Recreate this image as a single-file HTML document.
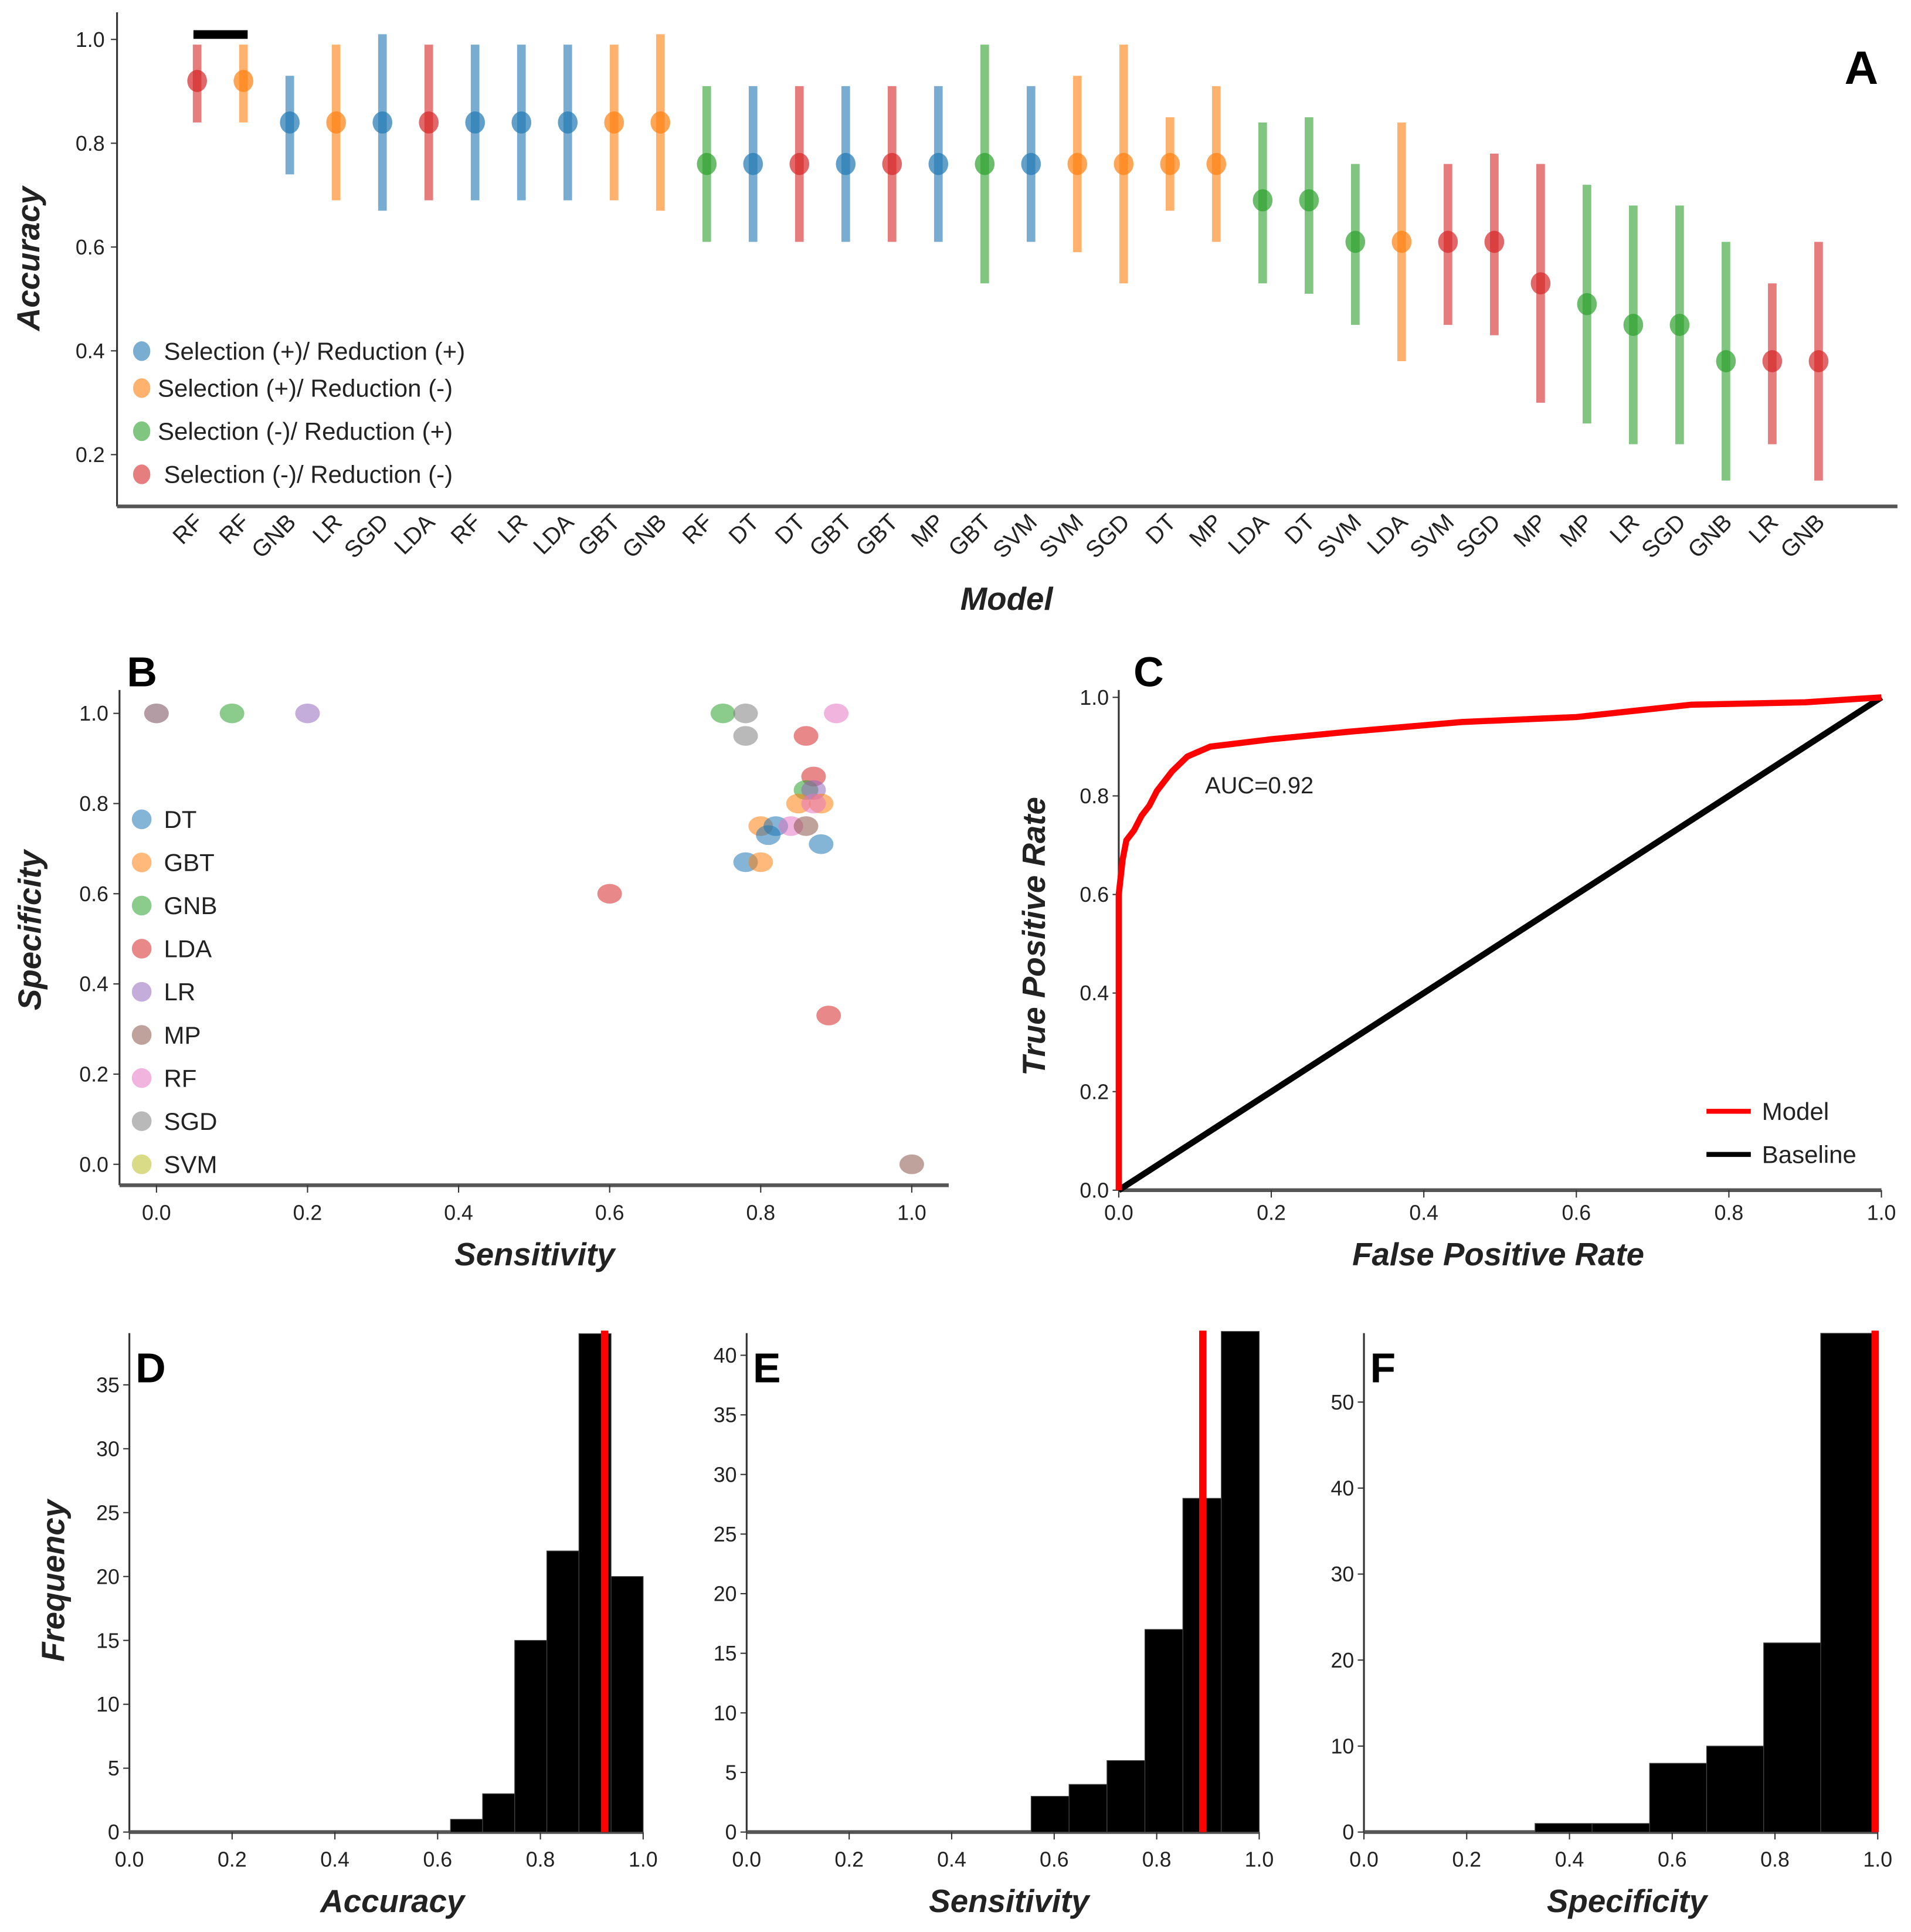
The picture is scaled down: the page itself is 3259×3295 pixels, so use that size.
<!DOCTYPE html>
<html><head><meta charset="utf-8"><style>
html,body{margin:0;padding:0;background:#fff}
svg{display:block}
text{font-family:"Liberation Sans Narrow","Liberation Sans",sans-serif;fill:#222}
.tick{font-size:17px}
.title{font-size:26px;font-weight:bold;font-style:italic;font-family:"Liberation Sans",sans-serif}
.letter{font-size:34px;font-weight:bold;font-family:"Liberation Sans",sans-serif;fill:#000}
.leg{font-size:20px}
</style></head><body>
<svg id="fig" width="3259" height="3295" viewBox="0 0 1551 1568.1" preserveAspectRatio="none" xmlns="http://www.w3.org/2000/svg"></svg>
<script>
// ---------- Panel A data ----------
const aModels = ["RF","RF","GNB","LR","SGD","LDA","RF","LR","LDA","GBT","GNB","RF","DT","DT","GBT","GBT","MP","GBT","SVM","SVM","SGD","DT","MP","LDA","DT","SVM","LDA","SVM","SGD","MP","MP","LR","SGD","GNB","LR","GNB"];
const aGroup = [3,1,0,1,0,3,0,0,0,1,1,2,0,3,0,3,0,2,0,1,1,1,1,2,2,2,1,3,3,3,2,2,2,2,3,3];
const aMean = [0.92,0.92,0.84,0.84,0.84,0.84,0.84,0.84,0.84,0.84,0.84,0.76,0.76,0.76,0.76,0.76,0.76,0.76,0.76,0.76,0.76,0.76,0.76,0.69,0.69,0.61,0.61,0.61,0.61,0.53,0.49,0.45,0.45,0.38,0.38,0.38];
const aLow = [0.84,0.84,0.74,0.69,0.67,0.69,0.69,0.69,0.69,0.69,0.67,0.61,0.61,0.61,0.61,0.61,0.61,0.53,0.61,0.59,0.53,0.67,0.61,0.53,0.51,0.45,0.38,0.45,0.43,0.30,0.26,0.22,0.22,0.15,0.22,0.15];
const aHigh = [0.99,0.99,0.93,0.99,1.01,0.99,0.99,0.99,0.99,0.99,1.01,0.91,0.91,0.91,0.91,0.91,0.91,0.99,0.91,0.93,0.99,0.85,0.91,0.84,0.85,0.76,0.84,0.76,0.78,0.76,0.72,0.68,0.68,0.61,0.53,0.61];
const aGroupNames = ["Selection (+)/ Reduction (+)","Selection (+)/ Reduction (-)","Selection (-)/ Reduction (+)","Selection (-)/ Reduction (-)"];
const aTicks = [0.2,0.4,0.6,0.8,1.0];
// ---------- Panel B data ----------
const bClasses = ["DT","GBT","GNB","LDA","LR","MP","RF","SGD","SVM"];
const bSens = [0,0,0.1,0.2,0.75,0.78,0.9,0.78,0.86,0.87,0.86,0.87,0.85,0.88,0.87,0.8,0.82,0.84,0.86,0.81,0.88,0.78,0.8,0.6,0.89,1.0];
const bSpec = [1,1,1,1,1,1,1,0.95,0.95,0.86,0.83,0.83,0.8,0.8,0.8,0.75,0.75,0.75,0.75,0.73,0.71,0.67,0.67,0.6,0.33,0.0];
const bCls = [8,4,2,4,2,7,6,7,3,3,2,4,1,1,6,1,0,6,5,0,0,0,1,3,3,5];
const bTicks = [0,0.2,0.4,0.6,0.8,1.0];
// ---------- Panel C data ----------
const rocFpr = [0,0,0.005,0.01,0.02,0.03,0.04,0.05,0.07,0.09,0.12,0.2,0.3,0.45,0.6,0.75,0.9,1];
const rocTpr = [0,0.6,0.67,0.71,0.73,0.76,0.78,0.81,0.85,0.88,0.9,0.915,0.93,0.95,0.96,0.985,0.99,1];
// ---------- Panels D/E/F data ----------
const dEdges = [0.625,0.6875,0.75,0.8125,0.875,0.9375,1.0];
const dCounts = [1,3,15,22,39,20];
const dRef = 0.925;
const dTicks = [0,5,10,15,20,25,30,35];
const eEdges = [0.555,0.629,0.703,0.777,0.851,0.926,1.0];
const eCounts = [3,4,6,17,28,42];
const eRef = 0.89;
const eTicks = [0,5,10,15,20,25,30,35,40];
const fEdges = [0.333,0.444,0.556,0.667,0.778,0.889,1.0];
const fCounts = [1,1,8,10,22,58];
const fRef = 0.995;
const fTicks = [0,10,20,30,40,50];
const xTicks01 = [0,0.2,0.4,0.6,0.8,1.0];

const NS="http://www.w3.org/2000/svg";
const svg=document.getElementById('fig');
function mk(tag,attrs,parent,txt){const e=document.createElementNS(NS,tag);for(const k in attrs)e.setAttribute(k,attrs[k]);if(txt!==undefined)e.textContent=txt;(parent||svg).appendChild(e);return e;}
const grpCol=["#1f77b4","#ff7f0e","#2ca02c","#d62728"];
const clsCol=["#1f77b4","#ff7f0e","#2ca02c","#d62728","#9467bd","#8c564b","#e377c2","#7f7f7f","#bcbd22"];

// ===== Panel A =====
const gA=mk('g',{});  
const axA=v=>32+(1-v)*421.25;
const axX=i=>160+i*(1476-160)/35;
let l=mk('line',{x1:95,y1:10,x2:95,y2:411,stroke:'#333','stroke-width':1.5},gA);
 
l=mk('line',{x1:95,y1:411,x2:1540,y2:411,stroke:'#555','stroke-width':3},gA);
 
aTicks.forEach(v=>{const y=axA(v);mk('line',{x1:90,y1:y,x2:95,y2:y,stroke:'#333'},gA);
 const t=mk('text',{x:85,y:y+6,'text-anchor':'end',class:'tick'},gA,v.toFixed(1));
  });
aModels.forEach((m,i)=>{const x=axX(i),c=grpCol[aGroup[i]];
 const b=mk('line',{x1:x,y1:axA(aHigh[i]),x2:x,y2:axA(aLow[i]),stroke:c,'stroke-width':7,opacity:0.6},gA);
  
 const p=mk('ellipse',{cx:x,cy:axA(aMean[i]),rx:8,ry:9,fill:c,opacity:0.7},gA);
  
 const t=mk('text',{x:x+6,y:425,'text-anchor':'end',class:'tick',transform:`rotate(-45 ${x+6} 425)`,style:'font-size:19px'},gA,m);
  });
l=mk('line',{x1:157,y1:28,x2:201,y2:28,stroke:'#000','stroke-width':7},gA);
 
let t=mk('text',{x:1497,y:68,class:'letter',style:'font-size:38px'},gA,'A');  
t=mk('text',{x:817,y:495,'text-anchor':'middle',class:'title'},gA,'Model');  
t=mk('text',{x:32,y:210,'text-anchor':'middle',class:'title',transform:'rotate(-90 32 210)'},gA,'Accuracy');  
[285,315,350,385].forEach((y,k)=>{const g=mk('g',{},gA);  
 mk('ellipse',{cx:115,cy:y,rx:7,ry:8,fill:grpCol[k],opacity:0.6},g);
 mk('text',{x:k===0||k===3?133:128,y:y+7,class:'leg'},g,aGroupNames[k]);});

// ===== Panel B =====
const gB=mk('g',{});  
const bx=v=>127+v*613, by=v=>945-v*366;
l=mk('line',{x1:97,y1:560,x2:97,y2:962,stroke:'#333','stroke-width':1.5},gB);  
l=mk('line',{x1:97,y1:962,x2:770,y2:962,stroke:'#555','stroke-width':3},gB);  
bTicks.forEach(v=>{mk('line',{x1:bx(v),y1:962,x2:bx(v),y2:968,stroke:'#333'},gB);
 let t=mk('text',{x:bx(v),y:990,'text-anchor':'middle',class:'tick'},gB,v.toFixed(1));  
 mk('line',{x1:92,y1:by(v),x2:97,y2:by(v),stroke:'#333'},gB);
 t=mk('text',{x:88,y:by(v)+6,'text-anchor':'end',class:'tick'},gB,v.toFixed(1));  });
bSens.forEach((s,i)=>{const p=mk('ellipse',{cx:bx(s),cy:by(bSpec[i]),rx:10,ry:8,fill:clsCol[bCls[i]],opacity:0.55},gB);
  });
bClasses.forEach((c,k)=>{const y=665+k*35;const g=mk('g',{},gB);  
 mk('ellipse',{cx:115,cy:y,rx:8,ry:8,fill:clsCol[k],opacity:0.55},g);
 mk('text',{x:133,y:y+7,class:'leg'},g,c);});
t=mk('text',{x:103,y:557,class:'letter'},gB,'B');  
t=mk('text',{x:434,y:1027,'text-anchor':'middle',class:'title'},gB,'Sensitivity');  
t=mk('text',{x:33,y:755,'text-anchor':'middle',class:'title',transform:'rotate(-90 33 755)'},gB,'Specificity');  

// ===== Panel C =====
const gC=mk('g',{});  
const cx=v=>908+v*619, cy=v=>966-v*400;
l=mk('line',{x1:908,y1:560,x2:908,y2:966,stroke:'#333','stroke-width':1.5},gC);  
l=mk('line',{x1:908,y1:966,x2:1527,y2:966,stroke:'#555','stroke-width':3},gC);  
xTicks01.forEach(v=>{mk('line',{x1:cx(v),y1:966,x2:cx(v),y2:972,stroke:'#333'},gC);
 let t=mk('text',{x:cx(v),y:990,'text-anchor':'middle',class:'tick'},gC,v.toFixed(1));  
 mk('line',{x1:903,y1:cy(v),x2:908,y2:cy(v),stroke:'#333'},gC);
 t=mk('text',{x:900,y:cy(v)+6,'text-anchor':'end',class:'tick'},gC,v.toFixed(1));  });
l=mk('line',{x1:cx(0),y1:cy(0),x2:cx(1),y2:cy(1),stroke:'#000','stroke-width':5},gC);  
let pts=rocFpr.map((f,i)=>cx(f)+','+cy(rocTpr[i])).join(' ');
l=mk('polyline',{points:pts,fill:'none',stroke:'#f00','stroke-width':5,'stroke-linejoin':'round'},gC);  
t=mk('text',{x:978,y:644,class:'leg',style:'font-size:19px'},gC,'AUC=0.92');  
[['#f00','Model',902],['#000','Baseline',937]].forEach(([c,n,y])=>{const g=mk('g',{},gC);  
 mk('line',{x1:1385,y1:y,x2:1421,y2:y,stroke:c,'stroke-width':4},g); mk('text',{x:1430,y:y+7,class:'leg'},g,n);});
t=mk('text',{x:920,y:557,class:'letter'},gC,'C');  
t=mk('text',{x:1216,y:1027,'text-anchor':'middle',class:'title'},gC,'False Positive Rate');  
t=mk('text',{x:848,y:760,'text-anchor':'middle',class:'title',transform:'rotate(-90 848 760)'},gC,'True Positive Rate');  

// ===== Histograms =====
function hist(name,x0,x1,yTopVal,yTopPx,edges,counts,ref,ticks,letter,title){
 const g=mk('g',{});  
 const X=v=>x0+v*(x1-x0), Y=v=>1487-v*(1487-yTopPx)/yTopVal;
 let l=mk('line',{x1:x0,y1:1082,x2:x0,y2:1487,stroke:'#333','stroke-width':1.5},g);  
 l=mk('line',{x1:x0,y1:1487,x2:x1,y2:1487,stroke:'#555','stroke-width':3},g);  
 ticks.forEach(v=>{mk('line',{x1:x0-5,y1:Y(v),x2:x0,y2:Y(v),stroke:'#333'},g);
  const t=mk('text',{x:x0-8,y:Y(v)+6,'text-anchor':'end',class:'tick'},g,String(v));  });
 xTicks01.forEach(v=>{mk('line',{x1:X(v),y1:1487,x2:X(v),y2:1493,stroke:'#333'},g);
  const t=mk('text',{x:X(v),y:1515,'text-anchor':'middle',class:'tick'},g,v.toFixed(1));  });
 counts.forEach((c,i)=>{const r=mk('rect',{x:X(edges[i]),y:Y(c),width:X(edges[i+1])-X(edges[i]),height:Y(0)-Y(c),fill:'#000',stroke:'#444','stroke-width':0.6},g);
   });
 l=mk('line',{x1:X(ref),y1:1080,x2:X(ref),y2:1487,stroke:'#f00','stroke-width':6},g);  
 let t=mk('text',{x:x0+5,y:1122,class:'letter'},g,letter);  
 t=mk('text',{x:(x0+x1)/2+5,y:1552,'text-anchor':'middle',class:'title'},g,title);  
}
hist('panel-d-accuracy-histogram',105,522,35,1124,dEdges,dCounts,dRef,dTicks,'D','Accuracy');
hist('panel-e-sensitivity-histogram',606,1022,40,1100,eEdges,eCounts,eRef,eTicks,'E','Sensitivity');
hist('panel-f-specificity-histogram',1107,1524,50,1138,fEdges,fCounts,fRef,fTicks,'F','Specificity');
t=mk('text',{x:52,y:1283,'text-anchor':'middle',class:'title',transform:'rotate(-90 52 1283)'},svg,'Frequency');  
</script>
</body></html>
